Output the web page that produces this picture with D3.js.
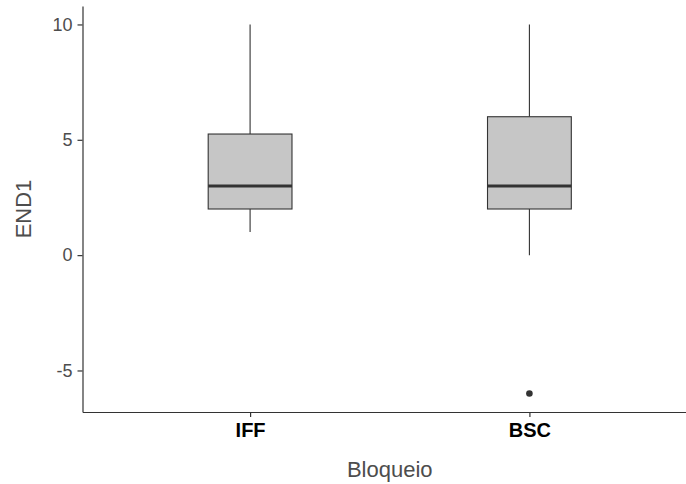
<!DOCTYPE html>
<html>
<head>
<meta charset="utf-8">
<script src="https://cdn.jsdelivr.net/npm/d3@7"></script>
<style>
  html, body { margin: 0; padding: 0; background: #fff; }
  svg { display: block; font-family: "Liberation Sans", Arial, sans-serif; }
</style>
</head>
<body>
<div id="chart"></div>
<script>
const categories = ["IFF", "BSC"];
const whiskerLow = [1, 0];
const q1 = [2, 2];
const median = [3, 3];
const q3 = [5.25, 6];
const whiskerHigh = [10, 10];
const outliers = [[], [-6]];
const yTicks = [-5, 0, 5, 10];

const width = 686;
const height = 484;
const panel = { left: 82.5, right: 697, top: 6, bottom: 412 };

const boxes = categories.map((name, i) => ({
  name,
  low: whiskerLow[i],
  q1: q1[i],
  median: median[i],
  q3: q3[i],
  high: whiskerHigh[i],
  outliers: outliers[i]
}));

const svg = d3.select("#chart")
  .append("svg")
  .attr("width", width)
  .attr("height", height);

const x = d3.scalePoint()
  .domain(categories)
  .range([panel.left, panel.right])
  .padding(0.6);

const y = d3.scaleLinear()
  .domain([-6.8, 10.8])
  .range([panel.bottom, panel.top]);

const boxWidth = x.step() * 0.3;

// boxes
const g = svg.append("g");
const box = g.selectAll("g.box")
  .data(boxes)
  .join("g")
  .attr("class", "box");

box.append("line")
  .attr("x1", (d) => x(d.name))
  .attr("x2", (d) => x(d.name))
  .attr("y1", (d) => y(d.q3))
  .attr("y2", (d) => y(d.high))
  .attr("stroke", "#333")
  .attr("stroke-width", 1.1);

box.append("line")
  .attr("x1", (d) => x(d.name))
  .attr("x2", (d) => x(d.name))
  .attr("y1", (d) => y(d.q1))
  .attr("y2", (d) => y(d.low))
  .attr("stroke", "#333")
  .attr("stroke-width", 1.1);

box.append("rect")
  .attr("x", (d) => x(d.name) - boxWidth / 2)
  .attr("width", boxWidth)
  .attr("y", (d) => y(d.q3))
  .attr("height", (d) => y(d.q1) - y(d.q3))
  .attr("fill", "#c6c6c6")
  .attr("stroke", "#333")
  .attr("stroke-width", 1.1);

box.append("line")
  .attr("x1", (d) => x(d.name) - boxWidth / 2)
  .attr("x2", (d) => x(d.name) + boxWidth / 2)
  .attr("y1", (d) => y(d.median))
  .attr("y2", (d) => y(d.median))
  .attr("stroke", "#333")
  .attr("stroke-width", 3);

box.selectAll("circle")
  .data((d) => d.outliers.map((v) => ({ name: d.name, v })))
  .join("circle")
  .attr("cx", (d) => x(d.name))
  .attr("cy", (d) => y(d.v))
  .attr("r", 3.3)
  .attr("fill", "#333");

// axes
const yAxis = svg.append("g")
  .attr("transform", `translate(${panel.left},0)`)
  .call(
    d3.axisLeft(y)
      .tickValues(yTicks)
      .tickFormat((d) => String(d))
      .tickSize(5)
      .tickSizeOuter(0)
      .tickPadding(5)
  );

yAxis.select(".domain").attr("stroke", "#333").attr("stroke-width", 1.2);
yAxis.selectAll(".tick line").attr("stroke", "#333").attr("stroke-width", 1.2);
yAxis.selectAll(".tick text")
  .attr("fill", "#4d4d4d")
  .attr("font-size", 18)
  .attr("font-family", "Liberation Sans, Arial, sans-serif");

const xAxis = svg.append("g")
  .attr("transform", `translate(0,${panel.bottom})`)
  .call(d3.axisBottom(x).tickSize(5).tickSizeOuter(0).tickPadding(6));

xAxis.select(".domain").attr("stroke", "#333").attr("stroke-width", 1.2);
xAxis.selectAll(".tick line").attr("stroke", "#333").attr("stroke-width", 1.2);
xAxis.selectAll(".tick text")
  .attr("fill", "#000")
  .attr("font-size", 20)
  .attr("font-weight", "bold")
  .attr("font-family", "Liberation Sans, Arial, sans-serif");

// titles
svg.append("text")
  .attr("x", (panel.left + panel.right) / 2)
  .attr("y", 477)
  .attr("text-anchor", "middle")
  .attr("fill", "#4d4d4d")
  .attr("font-size", 22)
  .text("Bloqueio");

svg.append("text")
  .attr("transform", `translate(31,${(panel.top + panel.bottom) / 2}) rotate(-90)`)
  .attr("text-anchor", "middle")
  .attr("fill", "#4d4d4d")
  .attr("font-size", 22)
  .text("END1");
</script>
</body>
</html>
